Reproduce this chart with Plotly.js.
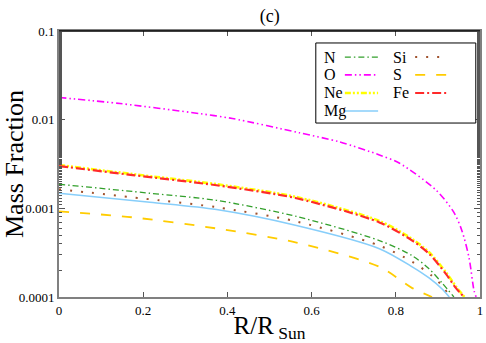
<!DOCTYPE html>
<html>
<head>
<meta charset="utf-8">
<script src="https://cdn.plot.ly/plotly-3.0.1.min.js"></script>
<style>
  body { margin: 0; background: #fff; }
  #plotlyArea { width: 486px; height: 343px; }
</style>
</head>
<body>
<div id="plotlyArea"></div>
<script>
// radius in units of R_Sun, mass fraction
var xN = [0, 0.216, 0.374, 0.564, 0.761, 0.839, 0.879, 0.910, 0.938];
var yN = [0.00187, 0.00148, 0.00123, 0.00081, 0.000433, 0.000292, 0.000208, 0.000144, 0.0001];

var xO = [0, 0.145, 0.334, 0.412, 0.571, 0.666, 0.761, 0.808, 0.896, 0.938, 0.957, 0.974, 0.986, 0.991];
var yO = [0.0178, 0.0152, 0.0117, 0.0103, 0.00711, 0.00562, 0.0040, 0.00324, 0.0016, 0.0009, 0.00056, 0.000277, 0.000117, 0.0001];

var xNe = [0, 0.175, 0.374, 0.564, 0.761, 0.839, 0.879, 0.919, 0.943, 0.963];
var yNe = [0.00308, 0.00243, 0.00187, 0.00134, 0.00072, 0.00045, 0.00032, 0.00019, 0.000131, 0.0001];

var xMg = [0, 0.216, 0.374, 0.564, 0.761, 0.839, 0.879, 0.910, 0.927];
var yMg = [0.00148, 0.00117, 0.00097, 0.000641, 0.000351, 0.000219, 0.000164, 0.000123, 0.0001];

var xSi = [0, 0.239, 0.374, 0.564, 0.761, 0.839, 0.886, 0.915, 0.927];
var ySi = [0.00164, 0.00123, 0.00103, 0.000711, 0.00038, 0.00025, 0.000173, 0.000126, 0.0001];

var xS = [0, 0.175, 0.374, 0.564, 0.761, 0.839, 0.886];
var yS = [0.000925, 0.000791, 0.000593, 0.000411, 0.000219, 0.000126, 0.0001];

var xFe = [0, 0.175, 0.374, 0.564, 0.761, 0.839, 0.879, 0.919, 0.943, 0.962];
var yFe = [0.0030, 0.00237, 0.00182, 0.00130, 0.000694, 0.000433, 0.000308, 0.000182, 0.000126, 0.0001];

var yTickVals = [0.0001, 0.001, 0.01, 0.1];
var yTickText = ['0.0001', '0.001', '0.01', '0.1'];

var serif = '"Liberation Serif", "DejaVu Serif", serif';

function curve(name, x, y, color, dash, width) {
    return {
        x: x, y: y, name: name,
        type: 'scatter', mode: 'lines',
        line: {color: color, dash: dash, width: width, shape: 'spline', smoothing: 0.8},
        showlegend: false, hoverinfo: 'skip'
    };
}

var series = [
    curve('Ne', xNe, yNe, '#ffff00', '6px,2px,2px,2px,2px,2px', 2.6),
    curve('Fe', xFe, yFe, '#ff2a2a', '9px,3px,2px,3px', 2.2),
    curve('O', xO, yO, '#ff00ff', '7px,3px,1.5px,3px,1.5px,3px', 1.6),
    curve('N', xN, yN, '#33a02c', '6px,3px,1.5px,3px', 1.3),
    curve('Si', xSi, ySi, '#a0522d', '2px,9px', 2),
    curve('Mg', xMg, yMg, '#87cefa', 'solid', 1.6),
    curve('S', xS, yS, '#ffcc00', '10px,11px', 1.8)
];

// hand-made legend: label first, line sample after it, two columns
var legendOrder = [['N', 'Si'], ['O', 'S'], ['Ne', 'Fe'], ['Mg']];
var rowY = [0.902, 0.835, 0.767, 0.699];
var colText = [0.624, 0.788];
var colLine = [[0.679, 0.758], [0.846, 0.924]];

var shapes = [
    {type: 'line', xref: 'paper', yref: 'paper', x0: 0, x1: 1, y0: 1, y1: 1,
     line: {color: '#000', width: 1.5}},
    {type: 'rect', xref: 'paper', yref: 'paper', x0: 0.610, x1: 0.990, y0: 0.654, y1: 0.955,
     line: {color: '#000', width: 1}, fillcolor: '#fff'}
];
var annotations = [];
legendOrder.forEach(function(row, r) {
    row.forEach(function(name, c) {
        var s = series.filter(function(t) { return t.name == name; })[0];
        annotations.push({
            text: name, xref: 'paper', yref: 'paper', x: colText[c], y: rowY[r],
            xanchor: 'left', yanchor: 'middle', showarrow: false,
            font: {family: serif, size: 16, color: '#000'}
        });
        shapes.push({
            type: 'line', xref: 'paper', yref: 'paper',
            x0: colLine[c][0], x1: colLine[c][1], y0: rowY[r], y1: rowY[r],
            line: {color: s.line.color, dash: s.line.dash, width: s.line.width}
        });
    });
});

var layout = {
    width: 486, height: 343,
    margin: {l: 59, r: 6, t: 31, b: 46},
    paper_bgcolor: '#fff', plot_bgcolor: '#fff',
    font: {family: serif, color: '#000', size: 13},
    title: {text: '(c)', x: 0.555, xanchor: 'center', y: 0.955, yanchor: 'middle',
            font: {family: serif, size: 18, color: '#000'}},
    xaxis: {
        range: [0, 1], dtick: 0.2, tick0: 0,
        showgrid: false, zeroline: false,
        showline: true, linecolor: '#808080', linewidth: 2, mirror: 'ticks',
        ticks: 'inside', ticklen: 5, tickcolor: '#555', tickwidth: 1,
        tickfont: {family: serif, size: 13, color: '#000'},
        title: {text: 'R/R<sub> Sun</sub>', standoff: 6, font: {family: serif, size: 25, color: '#000'}}
    },
    yaxis: {
        type: 'log', range: [-4, -1],
        tickvals: yTickVals, ticktext: yTickText,
        showgrid: false, zeroline: false,
        showline: true, linecolor: '#808080', linewidth: 2, mirror: 'ticks',
        ticks: 'inside', ticklen: 6, tickcolor: '#555', tickwidth: 1,
        minor: {ticks: 'inside', ticklen: 3, tickcolor: '#555', tickwidth: 1, showgrid: false},
        tickfont: {family: serif, size: 13, color: '#000'},
        title: {text: 'Mass Fraction', standoff: 4, font: {family: serif, size: 26, color: '#000'}}
    },
    shapes: shapes,
    annotations: annotations,
    showlegend: false
};

Plotly.newPlot('plotlyArea', series, layout, {staticPlot: true});
</script>
</body>
</html>
